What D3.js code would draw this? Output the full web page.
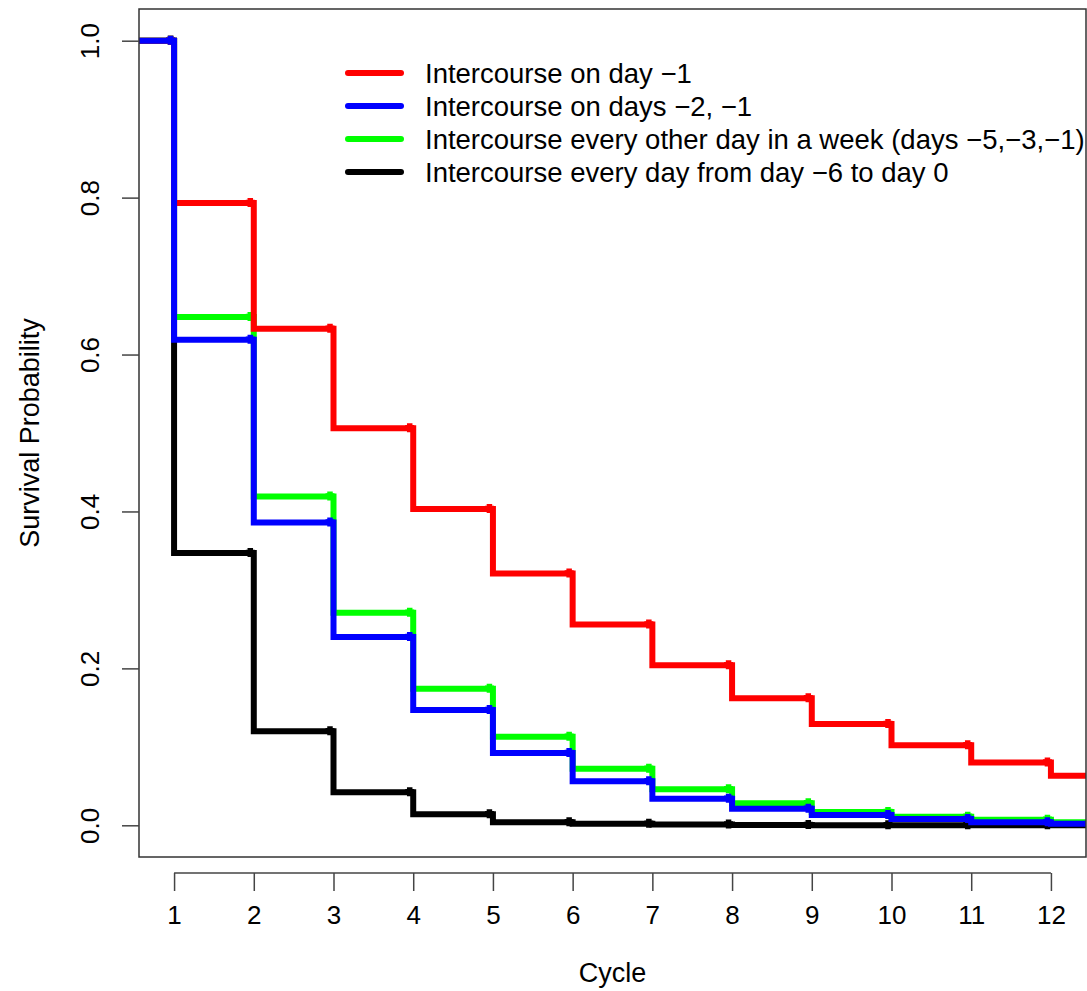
<!DOCTYPE html>
<html>
<head>
<meta charset="utf-8">
<script src="https://cdn.jsdelivr.net/npm/d3@7"></script>
<style>
  body { margin: 0; background: #fff; }
  text { font-family: "Liberation Sans", Arial, sans-serif; fill: #000; }
</style>
</head>
<body>
<div id="chart"></div>
<script>
// survival by cycle, value[i] holds on [i, i+1)
var cycles = [1, 2, 3, 4, 5, 6, 7, 8, 9, 10, 11, 12];
var surv_red   = [1, 0.793, 0.633, 0.506, 0.403, 0.321, 0.256, 0.204, 0.162, 0.129, 0.102, 0.080, 0.063];
var surv_blue  = [1, 0.619, 0.386, 0.240, 0.147, 0.092, 0.056, 0.034, 0.021, 0.013, 0.008, 0.004, 0.002];
var surv_green = [1, 0.648, 0.419, 0.271, 0.174, 0.113, 0.072, 0.046, 0.028, 0.017, 0.011, 0.007, 0.004];
var surv_black = [1, 0.347, 0.120, 0.042, 0.014, 0.004, 0.002, 0.001, 0.0005, 0.0002, 0.0001, 0.0001, 0];
var yTicks = [0, 0.2, 0.4, 0.6, 0.8, 1.0];
var legendLabels = [
  "Intercourse on day \u22121",
  "Intercourse on days \u22122, \u22121",
  "Intercourse every other day in a week (days \u22125,\u22123,\u22121)",
  "Intercourse every day from day \u22126 to day 0"
];
var legendColors = ["#ff0000", "#0000ff", "#00ff00", "#000000"];

var svg = d3.select("#chart").append("svg").attr("width", 1087).attr("height", 991),
  box = {left: 139, top: 9, right: 1086, bottom: 857};

var x = d3.scaleLinear().domain([0.56, 12.44]).range([box.left, box.right]);
var y = d3.scaleLinear().domain([-0.0404, 1.0404]).range([box.bottom, box.top]);

svg.append("clipPath").attr("id", "clip")
  .append("rect")
  .attr("x", box.left).attr("y", box.top)
  .attr("width", box.right - box.left).attr("height", box.bottom - box.top);

var line = d3.line()
  .x(function (d) { return x(d[0]); })
  .y(function (d) { return y(d[1]); })
  .curve(d3.curveStepAfter);

// drawing order so that blue sits on top, as in the original
var series = [
  {vals: surv_black, col: "#000000"},
  {vals: surv_green, col: "#00ff00"},
  {vals: surv_red, col: "#ff0000"},
  {vals: surv_blue, col: "#0000ff"}
];

var plot = svg.append("g").attr("clip-path", "url(#clip)");

series.forEach(function (s) {
  var pts = s.vals.map(function (v, i) { return [i, v]; });
  pts.push([13, s.vals[s.vals.length - 1]]);
  plot.append("path")
    .attr("d", line(pts))
    .attr("fill", "none")
    .attr("stroke", s.col)
    .attr("stroke-width", 6)
    .attr("stroke-linejoin", "miter")
    .attr("stroke-linecap", "square");

  // censor marks at the end of each step
  plot.selectAll(null)
    .data(cycles)
    .enter().append("path")
    .attr("transform", function (t) {
      return "translate(" + (x(t) - 3.5) + "," + (y(s.vals[t - 1]) - 0.5) + ")";
    })
    .attr("d", "M-4.5,0H4.5M0,-4.5V4.5")
    .attr("stroke", s.col)
    .attr("stroke-width", 5.5)
    .attr("fill", "none");
});

// box
svg.append("rect")
  .attr("x", box.left).attr("y", box.top)
  .attr("width", box.right - box.left).attr("height", box.bottom - box.top)
  .attr("fill", "none").attr("stroke", "#333").attr("stroke-width", 1.5);

// x axis (R style, detached below the box)
var xAxis = svg.append("g")
  .attr("transform", "translate(0,873)")
  .call(d3.axisBottom(x).tickValues(cycles).tickSize(18).tickPadding(15).tickSizeOuter(0));
xAxis.select(".domain").attr("d", "M" + x(1) + ",0H" + x(12)).attr("stroke", "#444").attr("stroke-width", 1.5);
xAxis.selectAll(".tick line").attr("stroke", "#444").attr("stroke-width", 1.5);
xAxis.selectAll(".tick text").style("font-size", "26px").attr("fill", "#000");

// y axis ticks on the box
var yAxis = svg.append("g")
  .attr("transform", "translate(" + box.left + ",0)")
  .call(d3.axisLeft(y).tickValues(yTicks).tickFormat(d3.format(".1f")).tickSize(17).tickSizeOuter(0));
yAxis.select(".domain").remove();
yAxis.selectAll(".tick line").attr("stroke", "#444").attr("stroke-width", 1.5);
yAxis.selectAll(".tick text")
  .style("font-size", "26px")
  .attr("fill", "#000")
  .attr("text-anchor", "middle")
  .attr("dy", null)
  .attr("x", null)
  .attr("transform", "translate(-49,0) rotate(-90)")
  .attr("dominant-baseline", "central");

svg.append("text")
  .attr("transform", "translate(30," + ((box.top + box.bottom) / 2) + ") rotate(-90)")
  .attr("text-anchor", "middle")
  .attr("dominant-baseline", "central")
  .style("font-size", "27px")
  .text("Survival Probability");

svg.append("text")
  .attr("x", (box.left + box.right) / 2)
  .attr("y", 973)
  .attr("text-anchor", "middle")
  .attr("dominant-baseline", "central")
  .style("font-size", "27px")
  .text("Cycle");

// legend
var legend = svg.selectAll(".legend")
  .data(legendLabels)
  .enter().append("g")
  .attr("class", "legend")
  .attr("transform", function (d, i) { return "translate(348," + (73 + i * 33) + ")"; });

legend.append("line")
  .attr("x1", 0).attr("x2", 53)
  .attr("stroke", function (d, i) { return legendColors[i]; })
  .attr("stroke-width", 6)
  .attr("stroke-linecap", "round");

legend.append("text")
  .attr("x", 77)
  .attr("dominant-baseline", "central")
  .style("font-size", "27.5px")
  .text(function (d) { return d; });
</script>
</body>
</html>
